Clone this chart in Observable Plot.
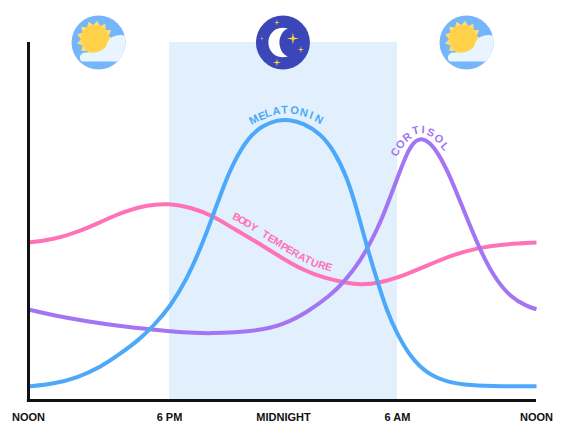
<!DOCTYPE html>
<html><head><meta charset="utf-8">
<script src="https://cdn.jsdelivr.net/npm/d3@7"></script>
<script src="https://cdn.jsdelivr.net/npm/@observablehq/plot@0.6"></script>
<style>html,body{margin:0;padding:0;background:#fff}svg{display:block}</style>
</head><body><div id="chart"></div>
<script>
const tickHours = [0, 6, 12, 18, 24];
const tickLabels = ["NOON", "6 PM", "MIDNIGHT", "6 AM", "NOON"];
const nightStart = 6, nightEnd = 18;

const melatoninHours = [0,1.08,2.07,3.06,3.91,4.77,5.33,6.05,6.93,7.63,8.25,8.86,9.38,10.09,10.88,11.67,12.28,13.07,13.95,14.65,15.35,15.88,16.41,16.93,17.46,17.98,18.56,19.28,20.14,21.15,22.45,24];
const melatoninLevel = [14,16.7,22.7,33.3,46.7,62,75,94,122,152,183,215,238.3,261.7,275,280.5,281,277.3,266.7,250,223.3,190,152.5,120,88.3,66.7,43.3,26.7,18.3,15,14,14.3];
const cortisolHours = [0,1.08,2.5,3.91,5.33,6.41,8.16,10.62,12.02,13.25,14.47,15.26,16.05,16.58,17.11,17.63,18.13,18.49,18.78,19.04,19.35,19.78,20.29,20.86,21.51,22.16,22.88,23.6,24];
const cortisolLevel = [91,85,79,74.3,70.7,68.3,66.7,69.3,76,88.3,105,120,140,158,178.3,204,231,251.7,260,262,259,246.7,223.3,190,153.3,123.3,103.3,94,91.3];
const temperatureHours = [0,1.08,2.07,3.06,4.06,5.05,5.96,7.11,8.25,9.38,10.62,11.84,13.07,14.12,15.26,16.05,17.11,18.27,19.28,20.43,21.51,22.45,24];
const temperatureLevel = [158,161,168.3,178.3,189,195.5,197,193.3,185,171.7,158.3,143.3,130,122.7,117.7,115.5,117.7,125,135,146,152.7,156,158];

const melatoninLetters = [..."MELATONIN"];
const melatoninLetterHours = [10.44,10.88,11.19,11.62,12.05,12.58,13.07,13.46,13.86];
const melatoninLetterLevel = [280.7,284.3,287.3,289.3,290.7,290,287.7,285,281];
const melatoninLetterTilt = [-28,-21,-15,-9,-2,6,13,19,27];

const cortisolLetters = [..."CORTISOL"];
const cortisolLetterHours = [17.89,18.13,18.42,18.78,19.11,19.43,19.78,20.04];
const cortisolLetterLevel = [248.3,256,263.3,270,270.7,267.7,261.7,254];
const cortisolLetterTilt = [-62,-50,-38,-14,2,20,38,50];

const temperatureLetters = [..."BODYTEMPERATURE"];
const temperatureLetterHours = [9.53,9.83,10.12,10.45,11.05,11.37,11.7,12.05,12.33,12.63,12.98,13.28,13.63,14.02,14.38];
const temperatureLetterLevel = [183.3,180,176.7,173,165.7,161.7,158.3,153.3,150.7,147.3,143.3,140.7,137.3,135,133.3];
const temperatureLetterTilt = [25,28,30,32,30,30,30,28,28,28,27,25,22,20,18];

const dayIconHours = [2.98, 20.98];
const nightIconHours = [11.97];
const iconLevel = 358;

const rows = (xs, ys) => xs.map((x, i) => ({x, y: ys[i]}));
const letters = (t, xs, ys, r) => t.map((text, i) => ({text, x: xs[i], y: ys[i], r: r[i]}));
const at = xs => xs.map(x => ({x, y: iconLevel}));

const sunRays = {draw(c) {
  const n = 13;
  for (let i = 0; i < n * 2; i++) {
    const a = (i / (n * 2)) * 2 * Math.PI, rr = i % 2 ? 14 : 18.5;
    const x = -3.5 + rr * Math.cos(a), y = -3.5 + rr * Math.sin(a);
    i ? c.lineTo(x, y) : c.moveTo(x, y);
  }
  c.closePath();
}};
const sunDisc = {draw(c) { c.moveTo(10.5, -3.5); c.arc(-3.5, -3.5, 14, 0, 2 * Math.PI); c.closePath(); }};
const cloud = {draw(c) {
  c.moveTo(-15, 19);
  c.bezierCurveTo(-21, 19, -19, 9, -13, 10);
  c.bezierCurveTo(-6, 11, 4, 10, 8, 3);
  c.bezierCurveTo(9, -5, 18, -9, 26, -7);
  c.arc(0, 0, 27, -0.26, 0.785);
  c.closePath();
}};
const moon = {draw(c) {
  c.moveTo(5, -14);
  c.bezierCurveTo(-9, -18, -15, -6, -14.5, 0);
  c.bezierCurveTo(-15, 6, -9, 18, 5, 14);
  c.bezierCurveTo(-1, 12, -3.5, 5, -3.5, 0);
  c.bezierCurveTo(-3.5, -5, -1, -12, 5, -14);
  c.closePath();
}};
const sparkle = (cx, cy, s) => c => {
  const k = s * 0.16;
  c.moveTo(cx, cy - s);
  c.lineTo(cx + k, cy - k); c.lineTo(cx + s, cy); c.lineTo(cx + k, cy + k);
  c.lineTo(cx, cy + s); c.lineTo(cx - k, cy + k); c.lineTo(cx - s, cy); c.lineTo(cx - k, cy - k);
  c.closePath();
};
const stars = {draw(c) {
  sparkle(10, -4, 6)(c); sparkle(18, 7, 3.5)(c); sparkle(-6, -20, 3)(c);
  sparkle(-6, 20, 4)(c); sparkle(-21, -4, 2)(c);
}};

const curve = (xs, ys, stroke) => Plot.line(rows(xs, ys), {x: "x", y: "y", stroke, strokeWidth: 4, strokeLinecap: "butt", curve: "basis"});
const word = (l, fill, fontSize) => Plot.text(l, {x: "x", y: "y", text: "text", rotate: "r", fill, fontSize, fontWeight: 700, textAnchor: "middle"});

const chart = Plot.plot({
  width: 573, height: 433, marginLeft: 0, marginRight: 0, marginTop: 0, marginBottom: 33,
  style: {fontFamily: "Liberation Sans, Arial, sans-serif", background: "#fff"},
  x: {type: "linear", domain: tickHours, range: [28, 169, 283, 397, 536], axis: null},
  y: {type: "linear", domain: [0, 358], range: [400, 42], axis: null},
  marks: [
    Plot.rect([{}], {x1: () => nightStart, x2: () => nightEnd, y1: () => 0, y2: () => 358, fill: "#E2EFFD"}),
    curve(temperatureHours, temperatureLevel, "#FF72B6"),
    curve(cortisolHours, cortisolLevel, "#A375F2"),
    curve(melatoninHours, melatoninLevel, "#4DA8F9"),
    word(letters(melatoninLetters, melatoninLetterHours, melatoninLetterLevel, melatoninLetterTilt), "#4DA8F9", 11),
    word(letters(cortisolLetters, cortisolLetterHours, cortisolLetterLevel, cortisolLetterTilt), "#A375F2", 11),
    word(letters(temperatureLetters, temperatureLetterHours, temperatureLetterLevel, temperatureLetterTilt), "#FF72B6", 10.5),
    Plot.ruleY([0], {x1: () => -0.05, x2: () => 24, stroke: "#111", strokeWidth: 3}),
    Plot.ruleX([0], {y1: () => -1, y2: () => 358, stroke: "#111", strokeWidth: 3}),
    Plot.axisX({ticks: tickHours, tickFormat: d => tickLabels[tickHours.indexOf(d)], tickSize: 0, tickPadding: 13, fontSize: 11, fontWeight: 700, label: null, fill: "#111"}),
    Plot.dot(at(dayIconHours), {x: "x", y: "y", r: 27, fill: "#74B5FB"}),
    Plot.dot(at(dayIconHours), {x: "x", y: "y", r: 18, symbol: sunRays, fill: "#FFDD6E"}),
    Plot.dot(at(dayIconHours), {x: "x", y: "y", r: 13, symbol: sunDisc, fill: "#FFD24A"}),
    Plot.dot(at(dayIconHours), {x: "x", y: "y", r: 20, symbol: cloud, fill: "#E8F5FE"}),
    Plot.dot(at(nightIconHours), {x: "x", y: "y", r: 27, fill: "#3B47B8"}),
    Plot.dot(at(nightIconHours), {x: "x", y: "y", r: 15, symbol: moon, fill: "#fff"}),
    Plot.dot(at(nightIconHours), {x: "x", y: "y", r: 20, symbol: stars, fill: "#FFD93B"})
  ]
});
document.getElementById("chart").append(chart);
</script></body></html>
